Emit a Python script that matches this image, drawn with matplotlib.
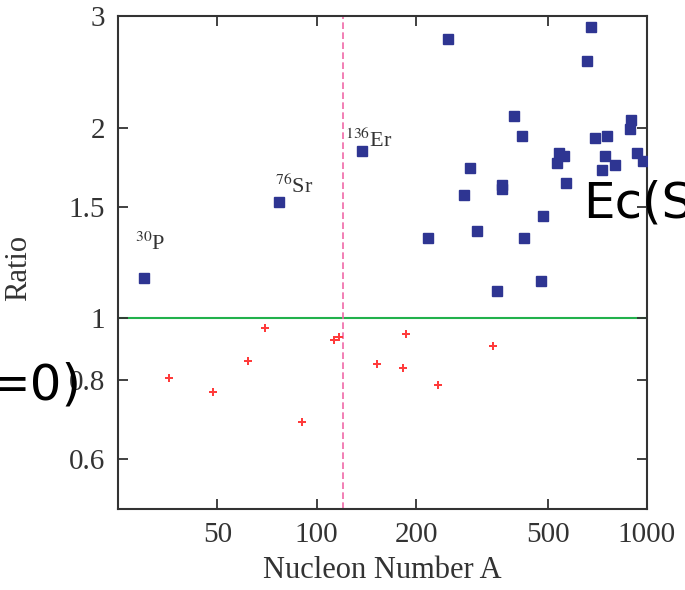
import matplotlib
matplotlib.use('Agg')
import matplotlib.pyplot as plt
from matplotlib.ticker import FixedLocator, NullLocator, FixedFormatter

plt.rcParams['font.family'] = ['Liberation Serif', 'DejaVu Serif']
plt.rcParams['mathtext.fontset'] = 'stix'

# ratio > 1 (blue squares)
blue_A = [30, 77, 137, 250, 679, 656, 395, 417, 897, 889, 697, 759, 540, 560,
          533, 746, 931, 973, 798, 733, 291, 364, 364, 568, 279, 486, 217,
          306, 424, 479, 352]
blue_R = [1.16, 1.525, 1.836, 2.755, 2.88, 2.55, 2.083, 1.939, 2.058, 1.987,
          1.925, 1.939, 1.825, 1.805, 1.757, 1.805, 1.823, 1.77, 1.745, 1.712,
          1.729, 1.625, 1.60, 1.637, 1.566, 1.453, 1.34, 1.372, 1.34, 1.147,
          1.106]

# ratio < 1 (red stars)
red_A = [35.7, 48.5, 61.8, 69.7, 90.3, 113, 117, 152, 187, 182, 233, 343]
red_R = [0.805, 0.766, 0.856, 0.964, 0.687, 0.926, 0.935, 0.846, 0.945, 0.836,
         0.785, 0.906]

labels = ['$^{30}$P', '$^{76}$Sr', '$^{136}$Er']
label_A = [30, 77, 137]
label_R = [1.16, 1.525, 1.836]
# label offsets from the marker, in pixels (left/up)
label_dx = [-9, -4, -17]
label_dy = [28, 9, 4]

A_cut = 120
xticks = [50, 100, 200, 500, 1000]
yticks = [0.6, 0.8, 1, 1.5, 2, 3]


def main():
    fig = plt.figure(figsize=(6.85, 5.9), dpi=100)
    ax = fig.add_axes([0.172, 0.137, 0.7725, 0.836])
    ax.set_xscale('log')
    ax.set_yscale('log')
    ax.set_xlim(25, 1000)
    ax.set_ylim(0.5, 3)

    ax.axhline(1, color='#22b14c', lw=1.5, zorder=1)
    ax.axvline(A_cut, color='#f06aa8', lw=1.2, ls=(0, (4, 2)), zorder=1)

    ax.plot(blue_A, blue_R, ls='none', marker='s', ms=6.5, color='#2e3592',
            zorder=3)
    ax.plot(red_A, red_R, ls='none', marker='P', ms=5.5, color='#ff3b3b',
            markeredgewidth=0, zorder=3)

    for lab, a, r, dx, dy in zip(labels, label_A, label_R, label_dx, label_dy):
        ax.annotate(lab, (a, r), xytext=(dx * 0.72, dy * 0.72),
                    textcoords='offset points', fontsize=16, ha='left',
                    va='baseline', color='#333333')

    ax.xaxis.set_major_locator(FixedLocator(xticks))
    ax.xaxis.set_major_formatter(FixedFormatter([str(t) for t in xticks]))
    ax.xaxis.set_minor_locator(NullLocator())
    ax.yaxis.set_major_locator(FixedLocator(yticks))
    ax.yaxis.set_major_formatter(FixedFormatter([str(t) for t in yticks]))
    ax.yaxis.set_minor_locator(NullLocator())
    ax.tick_params(which='major', direction='in', length=7, width=1.3,
                   top=True, right=True, labelsize=21, colors='#333333',
                   pad=9)
    for s in ax.spines.values():
        s.set_linewidth(1.5)
        s.set_color('#333333')

    ax.set_xlabel('Nucleon Number A', fontsize=22, color='#333333',
                  labelpad=6)
    ax.set_ylabel('Ratio', fontsize=22, color='#333333')
    ax.yaxis.set_label_coords(-0.161, 0.489)

    fig.text(583 / 685, 1 - 218 / 590, 'Ec(S', fontsize=36,
             family='DejaVu Sans', ha='left', va='baseline')
    fig.text(82 / 685, 1 - 400 / 590, '=0)', fontsize=36,
             family='DejaVu Sans', ha='right', va='baseline')

    fig.savefig('out.png', dpi=100)


if __name__ == "__main__":
    main()
